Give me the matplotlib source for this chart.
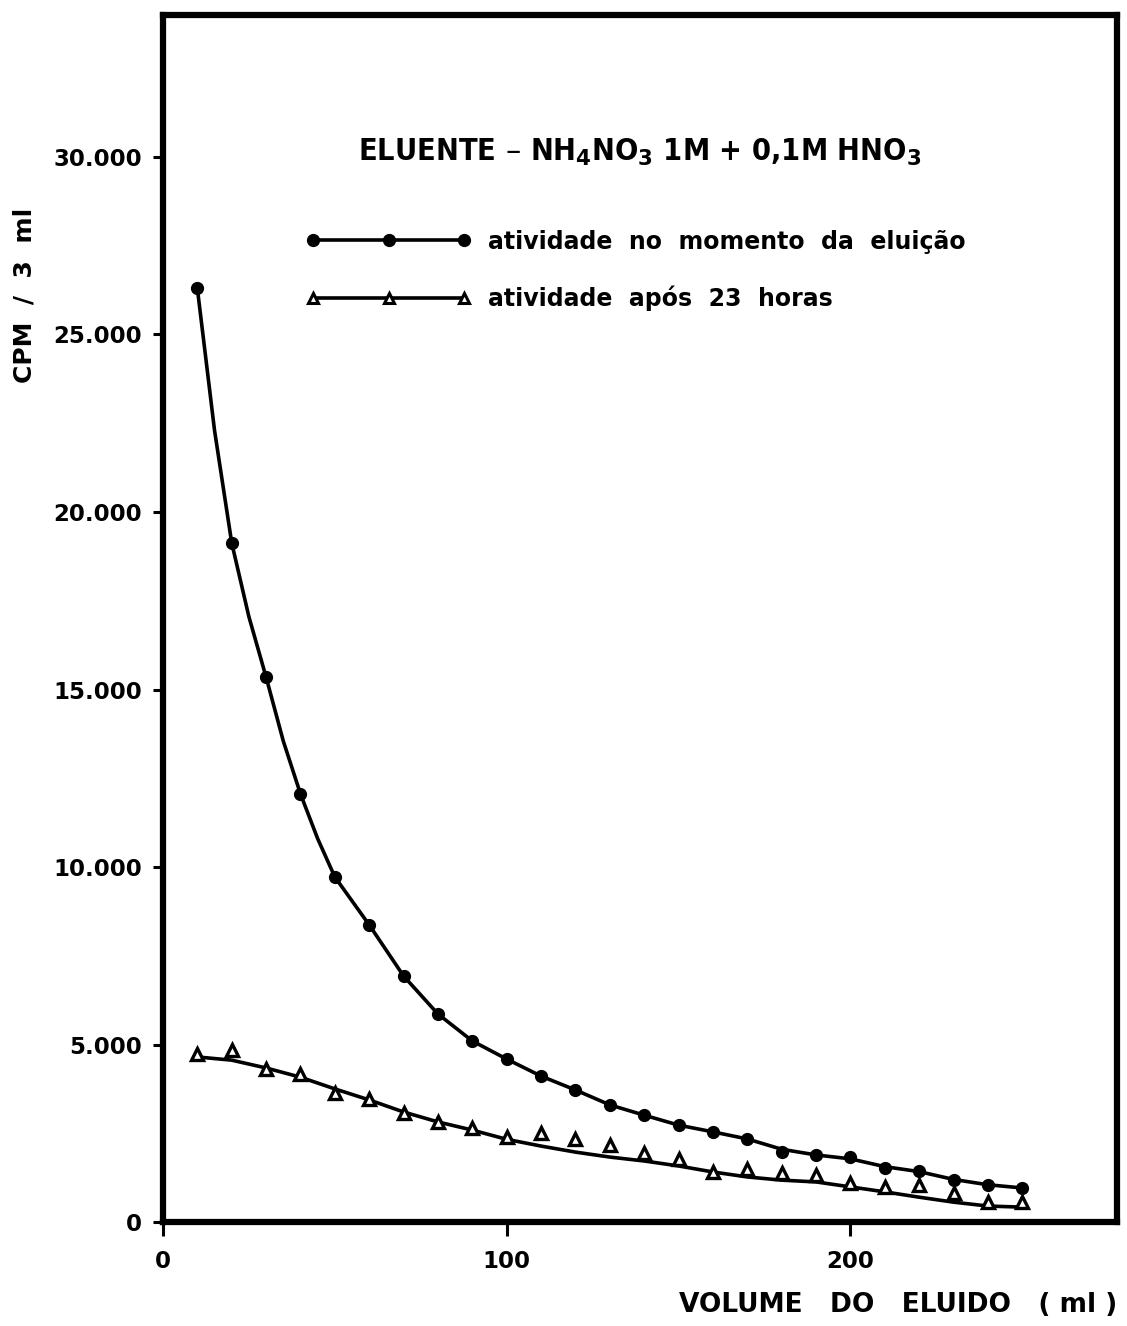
import matplotlib.pyplot as plt
from matplotlib.lines import Line2D

# volume do eluido (ml)
volume = [10, 20, 30, 40, 50, 60, 70, 80, 90, 100, 110, 120, 130,
          140, 150, 160, 170, 180, 190, 200, 210, 220, 230, 240, 250]

# atividade no momento da eluicao (CPM / 3 ml)
ativ_eluicao = [26300, 19130, 15350, 12060, 9720, 8370, 6930, 5860, 5100,
                4590, 4110, 3720, 3300, 3010, 2730, 2540, 2340, 1970,
                1890, 1830, 1520, 1440, 1180, 1040, 960]

# curva desenhada pelos pontos (lida do grafico, mais densa no inicio)
vol_curva_eluicao = [10, 15, 20, 25, 30, 35, 40, 45, 50, 60, 70, 80, 90,
                     100, 110, 120, 130, 140, 150, 160, 170, 180, 190,
                     200, 210, 220, 230, 240, 250]
curva_eluicao = [26300, 22300, 19130, 17050, 15350, 13550, 12060, 10800,
                 9720, 8370, 6930, 5860, 5100, 4590, 4110, 3720, 3300,
                 3010, 2730, 2540, 2340, 2050, 1890, 1780, 1560, 1420,
                 1200, 1050, 960]

# atividade apos 23 horas (pontos medidos)
ativ_23h = [4730, 4850, 4310, 4170, 3630, 3460, 3070, 2820, 2650, 2390,
            2510, 2340, 2170, 1940, 1770, 1410, 1490, 1380, 1320, 1100,
            990, 1040, 820, 560, 560]

# curva ajustada para apos 23 horas
curva_23h = [4650, 4560, 4340, 4080, 3750, 3440, 3100, 2820, 2590, 2330,
             2140, 1970, 1830, 1720, 1580, 1410, 1270, 1180, 1130, 990,
             850, 700, 560, 450, 420]

plt.rcParams['font.family'] = ['DejaVu Sans']
plt.rcParams['font.weight'] = 'bold'
plt.rcParams['mathtext.default'] = 'bf'

fig = plt.figure(figsize=(11.27, 13.26), dpi=100)
ax = fig.add_axes([0.1446, 0.0784, 0.8464, 0.9103])

ax.plot(vol_curva_eluicao, curva_eluicao, color='k', lw=2.6,
        solid_joinstyle='round')
ax.plot(volume, ativ_eluicao, ls='none', marker='o', ms=8.5,
        mfc='k', mec='k')
ax.plot(volume, curva_23h, color='k', lw=2.6, solid_joinstyle='round')
ax.plot(volume, ativ_23h, ls='none', marker='^', ms=8.5, mfc='white',
        mec='k', mew=2.4)

ax.set_xlim(0, 277.5)
ax.set_ylim(0, 34000)

for s in ax.spines.values():
    s.set_linewidth(4.5)

ax.set_xticks([0, 100, 200])
ax.set_xticklabels(['0', '100', '200'])
ax.set_yticks([0, 5000, 10000, 15000, 20000, 25000, 30000])
ax.set_yticklabels(['0', '5.000', '10.000', '15.000', '20.000', '25.000', '30.000'])
ax.tick_params(axis='both', direction='out', width=2.2, labelsize=16.5)
ax.tick_params(axis='y', length=7, pad=8)
ax.tick_params(axis='x', length=10, pad=10)

ax.set_ylabel('CPM  /  3  ml', fontsize=18, fontweight='bold')
ax.yaxis.set_label_coords(-0.133, 0.768)
ax.set_xlabel('VOLUME   DO   ELUIDO   ( ml )', fontsize=19, fontweight='bold')
ax.xaxis.set_label_coords(1.0, -0.058)
ax.xaxis.label.set_horizontalalignment('right')

ax.text(0.5, 0.886, r'ELUENTE – NH$_4$NO$_3$ 1M + 0,1M HNO$_3$',
        transform=ax.transAxes, ha='center', va='center', fontsize=22,
        fontweight='bold', stretch='condensed')

h1 = Line2D([], [], color='k', lw=2.6, marker='o', ms=8.5)
h2 = Line2D([], [], color='k', lw=2.6, marker='^', ms=7.5, mfc='white', mew=2.2)
ax.legend([h1, h2], ['atividade  no  momento  da  eluição', 'atividade  após  23  horas'],
          loc='upper left', bbox_to_anchor=(0.145, 0.826), frameon=False,
          numpoints=3, handlelength=7.0, fontsize=17, labelspacing=1.35,
          handletextpad=0.7, borderaxespad=0, borderpad=0.2)

fig.savefig('out.png', dpi=100)
